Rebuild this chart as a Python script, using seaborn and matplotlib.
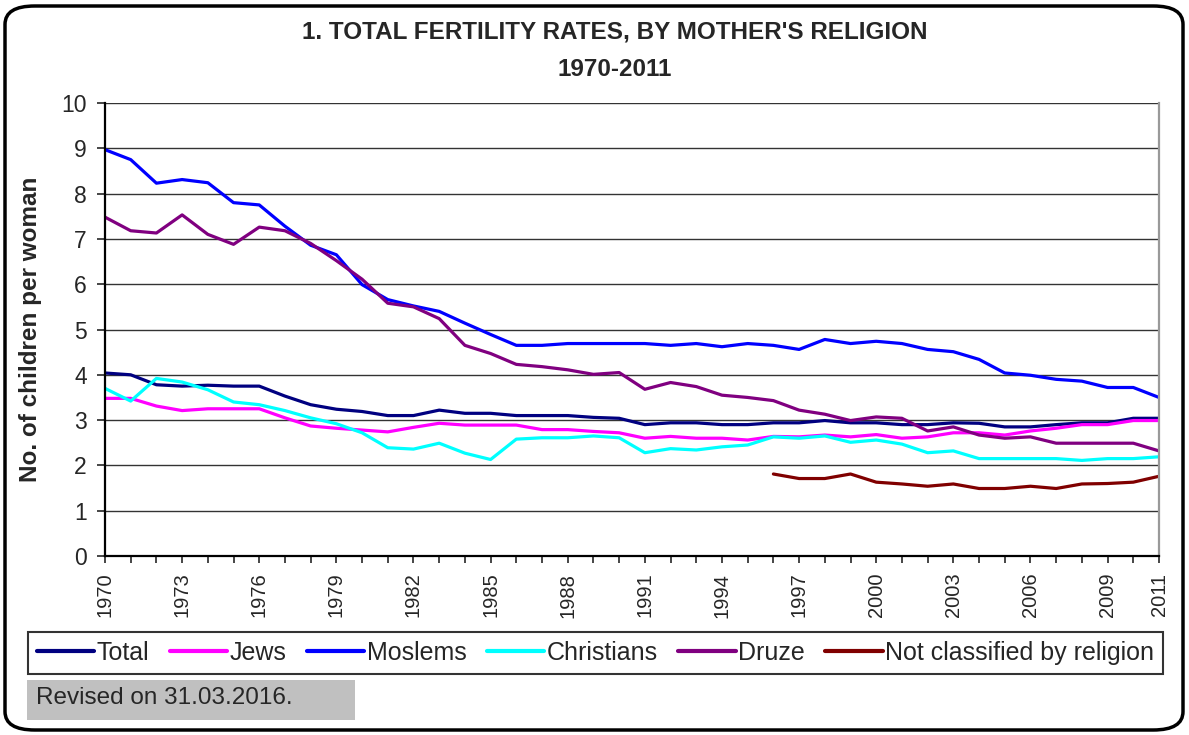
import numpy as np
import pandas as pd
import matplotlib
matplotlib.use("Agg")
import matplotlib.pyplot as plt
from matplotlib.patches import FancyBboxPatch, Rectangle
import seaborn as sns

# --------------------- Data ---------------------
years = list(range(1970, 2012))

total = [4.04, 4.00, 3.78, 3.75, 3.77, 3.75, 3.75, 3.53, 3.34, 3.24,
         3.19, 3.10, 3.10, 3.22, 3.15, 3.15, 3.10, 3.10, 3.10, 3.06,
         3.04, 2.90, 2.94, 2.94, 2.90, 2.90, 2.94, 2.94, 2.99, 2.94,
         2.94, 2.90, 2.90, 2.94, 2.93, 2.85, 2.85, 2.90, 2.94, 2.94,
         3.04, 3.04]
jews = [3.48, 3.48, 3.31, 3.21, 3.25, 3.25, 3.25, 3.05, 2.87, 2.82,
        2.78, 2.74, 2.84, 2.93, 2.89, 2.89, 2.89, 2.79, 2.79, 2.75,
        2.72, 2.60, 2.64, 2.60, 2.60, 2.56, 2.64, 2.63, 2.67, 2.63,
        2.68, 2.60, 2.63, 2.72, 2.72, 2.67, 2.76, 2.82, 2.90, 2.90,
        2.99, 2.99]
moslems = [8.97, 8.75, 8.23, 8.31, 8.24, 7.80, 7.75, 7.28, 6.86, 6.65,
           5.99, 5.66, 5.52, 5.40, 5.14, 4.89, 4.65, 4.65, 4.69, 4.69,
           4.69, 4.69, 4.65, 4.69, 4.62, 4.69, 4.65, 4.56, 4.78, 4.69,
           4.74, 4.69, 4.56, 4.51, 4.34, 4.04, 3.99, 3.90, 3.86, 3.72,
           3.72, 3.50]
christians = [3.70, 3.42, 3.92, 3.84, 3.67, 3.40, 3.34, 3.21, 3.05, 2.92,
              2.72, 2.39, 2.36, 2.49, 2.27, 2.13, 2.58, 2.61, 2.61, 2.65,
              2.61, 2.28, 2.37, 2.34, 2.41, 2.45, 2.63, 2.60, 2.65, 2.51,
              2.56, 2.47, 2.28, 2.32, 2.15, 2.15, 2.15, 2.15, 2.11, 2.15,
              2.15, 2.19]
druze = [7.48, 7.18, 7.13, 7.53, 7.10, 6.88, 7.26, 7.18, 6.90, 6.52,
         6.11, 5.58, 5.50, 5.24, 4.65, 4.47, 4.23, 4.18, 4.11, 4.01,
         4.05, 3.68, 3.83, 3.74, 3.55, 3.50, 3.43, 3.22, 3.13, 2.99,
         3.07, 3.04, 2.76, 2.85, 2.67, 2.60, 2.63, 2.49, 2.49, 2.49,
         2.49, 2.32]
not_classified = [np.nan] * 26 + [1.81, 1.71, 1.71, 1.81, 1.63, 1.59, 1.54, 1.59,
                                  1.49, 1.49, 1.54, 1.49, 1.59, 1.60, 1.63, 1.76]

series_names = ["Total", "Jews", "Moslems", "Christians", "Druze",
                "Not classified by religion"]
series_values = [total, jews, moslems, christians, druze, not_classified]
colors = ["#000080", "#FF00FF", "#0000FF", "#00FFFF", "#800080", "#800000"]

tick_years = [1970, 1973, 1976, 1979, 1982, 1985, 1988, 1991, 1994, 1997,
              2000, 2003, 2006, 2009, 2011]

df = pd.concat([pd.DataFrame({"year": years, "rate": v, "religion": n})
                for n, v in zip(series_names, series_values)], ignore_index=True)

# --------------------- Plot ---------------------
sns.set_style("white")
plt.rcParams['font.family'] = ['Liberation Sans', 'DejaVu Sans']

fig = plt.figure(figsize=(11.89, 7.35), dpi=100)
ax = fig.add_axes([105 / 1189, 1 - 556 / 735, (1159 - 105) / 1189, (556 - 103) / 735])

sns.lineplot(data=df, x="year", y="rate", hue="religion", hue_order=series_names,
             palette=dict(zip(series_names, colors)), linewidth=2.3, ax=ax)

ax.set_xlim(1970, 2011)
ax.set_ylim(0, 10)
ax.set_yticks(range(0, 11))
ax.set_xticks(years, minor=True)
ax.set_xticks(tick_years)
ax.set_xticklabels([str(y) for y in tick_years], rotation=90, fontsize=14.5)
ax.tick_params(axis="y", labelsize=16.5, length=6, width=1.2, direction="out", left=True, pad=7)
ax.tick_params(axis="x", which="both", length=5, width=1.2, direction="out", bottom=True, pad=7)
ax.grid(axis="y", color="#333333", linewidth=1.0)
ax.set_axisbelow(True)
for side in ["left", "bottom"]:
    ax.spines[side].set_color("black")
    ax.spines[side].set_linewidth(1.6)
ax.spines["top"].set_visible(False)
ax.spines["right"].set_color("#999999")
ax.spines["right"].set_linewidth(1.6)
ax.set_xlabel("")
ax.set_ylabel("No. of children per woman", fontsize=17.5, fontweight="bold", labelpad=14)

handles, labels = ax.get_legend_handles_labels()
ax.get_legend().remove()
leg = fig.legend(handles, labels, loc="center", ncol=6, mode="expand",
                 bbox_to_anchor=(28 / 1189, 1 - 678 / 735, (1163 - 28) / 1189, 50 / 735),
                 fontsize=18, frameon=True, fancybox=False, handlelength=2.3,
                 handletextpad=0.1, borderaxespad=0, borderpad=0.35)
leg.get_frame().set_edgecolor("black")
leg.get_frame().set_linewidth(1.5)
for line in leg.get_lines():
    line.set_linewidth(3)

fig.text(615 / 1189, 1 - 32 / 735, "1. TOTAL FERTILITY RATES, BY MOTHER'S RELIGION",
         ha="center", va="center", fontsize=17.5, fontweight="bold")
fig.text(615 / 1189, 1 - 69 / 735, "1970-2011", ha="center", va="center",
         fontsize=17.5, fontweight="bold")

fig.patches.append(Rectangle((27 / 1189, 1 - 720 / 735), 328 / 1189, 40 / 735,
                             transform=fig.transFigure, facecolor="#C0C0C0",
                             edgecolor="none", zorder=0))
fig.text(36 / 1189, 1 - 698 / 735, "Revised on 31.03.2016.", ha="left", va="center",
         fontsize=17.5)

fig.patches.append(FancyBboxPatch((5 / 1189, 5 / 735), 1178 / 1189, 724 / 735,
                                  boxstyle="round,pad=0,rounding_size=0.025",
                                  transform=fig.transFigure, facecolor="none",
                                  edgecolor="black", linewidth=2.5, zorder=0))

fig.savefig("out.png", dpi=100)
